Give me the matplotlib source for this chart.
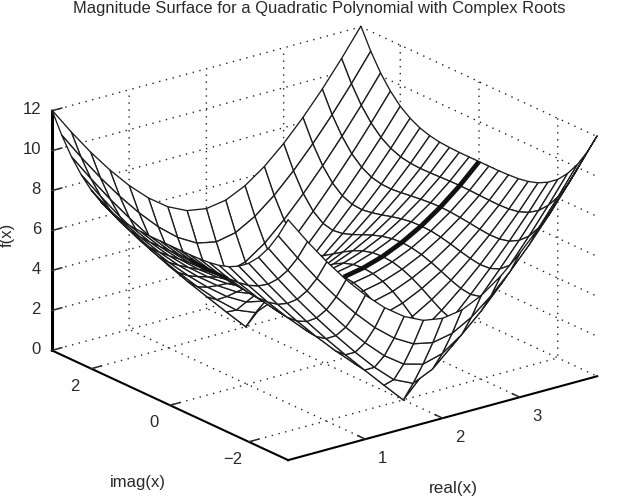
import matplotlib
matplotlib.use("Agg")
import matplotlib.pyplot as plt
import numpy as np
from matplotlib.transforms import ScaledTranslation

plt.rcParams["font.family"] = ["Liberation Sans", "DejaVu Sans"]

TITLE = "Magnitude Surface for a Quadratic Polynomial with Complex Roots"
REAL_X = [0, 0.25, 0.5, 0.75, 1, 1.25, 1.5, 1.75, 2, 2.25, 2.5, 2.75, 3, 3.25, 3.5, 3.75, 4]
IMAG_X = [-3, -2.75, -2.5, -2.25, -2, -1.75, -1.5, -1.25, -1, -0.75, -0.5, -0.25, 0,
          0.25, 0.5, 0.75, 1, 1.25, 1.5, 1.75, 2, 2.25, 2.5, 2.75, 3]
REAL_TICKS = [1, 2, 3]
IMAG_TICKS = [-2, 0, 2]
F_TICKS = [0, 2, 4, 6, 8, 10, 12]

# one row per imag(x)
MAGNITUDE = [
    [12.04, 10.68, 9.41, 8.25, 7.21, 6.32, 5.62, 5.16, 5.00, 5.16, 5.62, 6.32, 7.21, 8.25, 9.41, 10.68, 12.04],
    [11.01, 9.64, 8.35, 7.16, 6.07, 5.10, 4.31, 3.76, 3.56, 3.76, 4.31, 5.10, 6.07, 7.16, 8.35, 9.64, 11.01],
    [10.15, 8.79, 7.50, 6.29, 5.15, 4.11, 3.20, 2.52, 2.25, 2.52, 3.20, 4.11, 5.15, 6.29, 7.50, 8.79, 10.15],
    [9.47, 8.13, 6.85, 5.65, 4.50, 3.41, 2.39, 1.51, 1.06, 1.51, 2.39, 3.41, 4.50, 5.65, 6.85, 8.13, 9.47],
    [8.94, 7.64, 6.41, 5.24, 4.12, 3.05, 2.02, 1.00, 0.00, 1.00, 2.02, 3.05, 4.12, 5.24, 6.41, 7.64, 8.94],
    [8.57, 7.32, 6.14, 5.04, 4.00, 3.02, 2.11, 1.33, 0.94, 1.33, 2.11, 3.02, 4.00, 5.04, 6.14, 7.32, 8.57],
    [8.31, 7.12, 6.02, 5.00, 4.07, 3.23, 2.50, 1.96, 1.75, 1.96, 2.50, 3.23, 4.07, 5.00, 6.02, 7.12, 8.31],
    [8.15, 7.03, 6.00, 5.08, 4.25, 3.54, 2.96, 2.58, 2.44, 2.58, 2.96, 3.54, 4.25, 5.08, 6.00, 7.03, 8.15],
    [8.06, 7.00, 6.05, 5.20, 4.47, 3.87, 3.40, 3.10, 3.00, 3.10, 3.40, 3.87, 4.47, 5.20, 6.05, 7.00, 8.06],
    [8.02, 7.01, 6.12, 5.34, 4.68, 4.16, 3.76, 3.52, 3.44, 3.52, 3.76, 4.16, 4.68, 5.34, 6.12, 7.01, 8.02],
    [8.00, 7.03, 6.18, 5.46, 4.85, 4.38, 4.03, 3.82, 3.75, 3.82, 4.03, 4.38, 4.85, 5.46, 6.18, 7.03, 8.00],
    [8.00, 7.05, 6.23, 5.54, 4.96, 4.52, 4.19, 4.00, 3.94, 4.00, 4.19, 4.52, 4.96, 5.54, 6.23, 7.05, 8.00],
    [8.00, 7.06, 6.25, 5.56, 5.00, 4.56, 4.25, 4.06, 4.00, 4.06, 4.25, 4.56, 5.00, 5.56, 6.25, 7.06, 8.00],
    [8.00, 7.05, 6.23, 5.54, 4.96, 4.52, 4.19, 4.00, 3.94, 4.00, 4.19, 4.52, 4.96, 5.54, 6.23, 7.05, 8.00],
    [8.00, 7.03, 6.18, 5.46, 4.85, 4.38, 4.03, 3.82, 3.75, 3.82, 4.03, 4.38, 4.85, 5.46, 6.18, 7.03, 8.00],
    [8.02, 7.01, 6.12, 5.34, 4.68, 4.16, 3.76, 3.52, 3.44, 3.52, 3.76, 4.16, 4.68, 5.34, 6.12, 7.01, 8.02],
    [8.06, 7.00, 6.05, 5.20, 4.47, 3.87, 3.40, 3.10, 3.00, 3.10, 3.40, 3.87, 4.47, 5.20, 6.05, 7.00, 8.06],
    [8.15, 7.03, 6.00, 5.08, 4.25, 3.54, 2.96, 2.58, 2.44, 2.58, 2.96, 3.54, 4.25, 5.08, 6.00, 7.03, 8.15],
    [8.31, 7.12, 6.02, 5.00, 4.07, 3.23, 2.50, 1.96, 1.75, 1.96, 2.50, 3.23, 4.07, 5.00, 6.02, 7.12, 8.31],
    [8.57, 7.32, 6.14, 5.04, 4.00, 3.02, 2.11, 1.33, 0.94, 1.33, 2.11, 3.02, 4.00, 5.04, 6.14, 7.32, 8.57],
    [8.94, 7.64, 6.41, 5.24, 4.12, 3.05, 2.02, 1.00, 0.00, 1.00, 2.02, 3.05, 4.12, 5.24, 6.41, 7.64, 8.94],
    [9.47, 8.13, 6.85, 5.65, 4.50, 3.41, 2.39, 1.51, 1.06, 1.51, 2.39, 3.41, 4.50, 5.65, 6.85, 8.13, 9.47],
    [10.15, 8.79, 7.50, 6.29, 5.15, 4.11, 3.20, 2.52, 2.25, 2.52, 3.20, 4.11, 5.15, 6.29, 7.50, 8.79, 10.15],
    [11.01, 9.64, 8.35, 7.16, 6.07, 5.10, 4.31, 3.76, 3.56, 3.76, 4.31, 5.10, 6.07, 7.16, 8.35, 9.64, 11.01],
    [12.04, 10.68, 9.41, 8.25, 7.21, 6.32, 5.62, 5.16, 5.00, 5.16, 5.62, 6.32, 7.21, 8.25, 9.41, 10.68, 12.04],
]

INK = "#1c1c1c"
TEXT = "#2a2a2a"

real = np.array(REAL_X)
imag = np.array(IMAG_X)
mag = np.array(MAGNITUDE)
X, Y = np.meshgrid(real, imag)

fig = plt.figure(figsize=(6.37, 5.04), dpi=100)
ax = fig.add_axes([65.7 / 637, 1.7 / 504, 504 / 637, 1.0], projection="3d", proj_type="ortho")
ax.view_init(elev=20.8, azim=-127.4)
ax.set_box_aspect((390, 390, 257), zoom=1.169)
ax.computed_zorder = False
ax.patch.set_alpha(0)

ax.set_xlim(0, 4, view_margin=0)
ax.set_ylim(-3, 3, view_margin=0)
ax.set_zlim(0, 12, view_margin=0)

surf = ax.plot_surface(X, Y, mag, rstride=1, cstride=1, color="white", edgecolor=INK,
                       linewidth=0.95, shade=False, zorder=2)
surf.set_clip_on(False)

# the real axis is picked out in bold where you can see it
row = IMAG_X.index(0)
front = (real >= 2.25)
under = (real >= 0.25) & (real <= 0.75)
ax.plot(real[front], np.zeros(front.sum()), mag[row][front], color="#111111", lw=3.4,
        solid_capstyle="butt", zorder=3, clip_on=False)
ax.plot(real[under], np.zeros(under.sum()), mag[row][under], color="#111111", lw=2.4,
        solid_capstyle="butt", zorder=3, clip_on=False)

ax.set_xticks(REAL_TICKS)
ax.set_yticks(IMAG_TICKS)
ax.set_zticks(F_TICKS)
ax.tick_params(axis="both", labelsize=12, labelcolor=TEXT, colors=TEXT, pad=2)
ax.zaxis.set_tick_params(pad=-4.2)

for axis in (ax.xaxis, ax.yaxis, ax.zaxis):
    axis.set_pane_color((1, 1, 1, 0))
    axis.pane.set_edgecolor((1, 1, 1, 0))
    axis._axinfo["grid"].update(color="#222222", linestyle=(0, (1, 4)), linewidth=1.0)
    axis._axinfo["tick"].update(inward_factor=0.0, outward_factor=0.4)
    axis._axinfo["tick"]["linewidth"] = {True: 1.1, False: 1.1}
    axis._axinfo["axisline"]["color"] = INK
    axis.line.set_linewidth(1.5)
ax.zaxis.line.set_linewidth(2.2)


def nudge_down(label, pixels):
    # mplot3d resets label transforms on every draw, so block that
    label.set_transform(ax.transData + ScaledTranslation(0, -pixels / 100, fig.dpi_scale_trans))
    label.set_transform = lambda t: None


for label in ax.get_zticklabels():
    label.set_ha("right")
    label.set_va("baseline")
    nudge_down(label, 4)
for label in ax.get_xticklabels():
    label.set_ha("left")
    label.set_va("baseline")
    nudge_down(label, 5)
for label in ax.get_yticklabels():
    label.set_va("baseline")
    nudge_down(label, 5)

fig.text(319 / 637, 1 - 8 / 504, TITLE, ha="center", va="center", fontsize=11.85, color=TEXT)
fig.text(453 / 637, 1 - 489 / 504, "real(x)", ha="center", va="center", fontsize=12.3, color=TEXT)
fig.text(138 / 637, 1 - 483 / 504, "imag(x)", ha="center", va="center", fontsize=12, color=TEXT)
fig.text(7 / 637, 1 - 235 / 504, "f(x)", ha="center", va="center", rotation=90, fontsize=12, color=TEXT)

plt.savefig("out.png", dpi=100)
plt.close()
